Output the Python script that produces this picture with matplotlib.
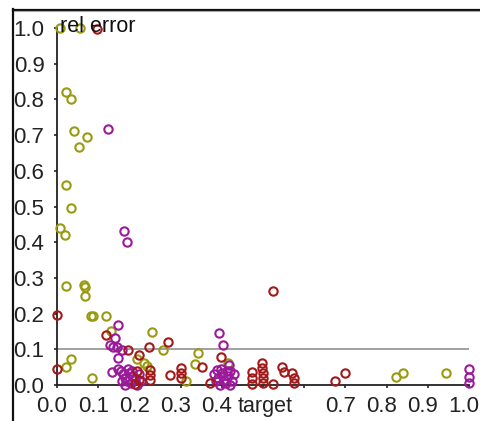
import matplotlib
matplotlib.use("Agg")
import matplotlib.pyplot as plt
from matplotlib.lines import Line2D
from matplotlib.transforms import ScaledTranslation

# series: (target, relative error)
olive_x = [0.007, 0.056, 0.023, 0.034, 0.041, 0.072, 0.053, 0.023, 0.033,
           0.007, 0.019, 0.023, 0.065, 0.068, 0.068, 0.083, 0.088, 0.120,
           0.130, 0.230, 0.258, 0.193, 0.210, 0.218, 0.343, 0.335, 0.416,
           0.313, 0.034, 0.021, 0.084, 0.824, 0.841, 0.943]
olive_y = [1.000, 1.000, 0.820, 0.800, 0.712, 0.695, 0.667, 0.560, 0.496,
           0.439, 0.420, 0.278, 0.280, 0.274, 0.249, 0.193, 0.194, 0.194,
           0.150, 0.148, 0.098, 0.072, 0.062, 0.054, 0.089, 0.060, 0.062,
           0.011, 0.072, 0.051, 0.020, 0.023, 0.033, 0.033]

purple_x = [0.125, 0.163, 0.170, 0.147, 0.141, 0.128, 0.136, 0.145, 0.157,
            0.149, 0.133, 0.148, 0.155, 0.160, 0.165, 0.170, 0.175, 0.180,
            0.185, 0.190, 0.195, 0.200, 0.172, 0.158, 0.182, 0.165, 0.205,
            0.394, 0.404, 0.418, 0.380, 0.385, 0.390, 0.395, 0.400, 0.405,
            0.410, 0.415, 0.420, 0.425, 0.430, 0.398, 0.412, 0.388, 0.420,
            1.000, 1.000, 1.000]
purple_y = [0.717, 0.432, 0.401, 0.168, 0.131, 0.112, 0.107, 0.106, 0.098,
            0.075, 0.037, 0.045, 0.040, 0.030, 0.020, 0.010, 0.035, 0.005,
            0.025, 0.015, 0.000, 0.030, 0.045, 0.012, 0.040, 0.000, 0.012,
            0.147, 0.112, 0.055, 0.030, 0.010, 0.020, 0.000, 0.035, 0.015,
            0.005, 0.025, 0.040, 0.010, 0.030, 0.045, 0.040, 0.042, 0.000,
            0.044, 0.023, 0.006]

red_x = [0.096, 0.000, 0.000, 0.120, 0.173, 0.200, 0.224, 0.270, 0.226,
         0.226, 0.226, 0.200, 0.195, 0.190, 0.300, 0.300, 0.300, 0.274,
         0.351, 0.371, 0.397, 0.525, 0.473, 0.473, 0.473, 0.498, 0.498,
         0.501, 0.501, 0.501, 0.525, 0.547, 0.551, 0.571, 0.575, 0.575,
         0.675, 0.699]
red_y = [0.997, 0.195, 0.044, 0.140, 0.098, 0.084, 0.107, 0.121, 0.042,
         0.028, 0.014, 0.014, 0.040, 0.004, 0.047, 0.033, 0.019, 0.028,
         0.051, 0.005, 0.079, 0.264, 0.037, 0.019, 0.002, 0.061, 0.047,
         0.033, 0.019, 0.005, 0.003, 0.051, 0.037, 0.033, 0.019, 0.005,
         0.012, 0.033]

x_ticks = [0.0, 0.1, 0.2, 0.3, 0.4, 0.5, 0.6, 0.7, 0.8, 0.9, 1.0]
x_tick_labels = ["0.0", "0.1", "0.2", "0.3", "0.4", "target", "", "0.7",
                 "0.8", "0.9", "1.0"]
y_ticks = [0.0, 0.1, 0.2, 0.3, 0.4, 0.5, 0.6, 0.7, 0.8, 0.9, 1.0]
threshold = 0.1

plt.rcParams["font.family"] = ["Liberation Sans", "DejaVu Sans"]

W, H = 481, 421
fig = plt.figure(figsize=(W / 100, H / 100), dpi=100)
fig.patch.set_facecolor("white")
ax = fig.add_axes([57 / W, 1 - 385 / H, (469 - 57) / W, (385 - 28) / H])
ax.set_xlim(0, 1)
ax.set_ylim(0, 1)
for s in ("top", "right"):
    ax.spines[s].set_visible(False)
for s in ("left", "bottom"):
    ax.spines[s].set_color("#222222")
    ax.spines[s].set_linewidth(1.3)

ax.axhline(threshold, color="#999999", lw=1.3, zorder=1)

style = dict(ls="none", marker="o", ms=6.0, mew=1.5, mfc="none",
             clip_on=False, zorder=3)
ax.plot(olive_x, olive_y, mec="#9a9a10", **style)
ax.plot(purple_x, purple_y, mec="#9a1a9a", **style)
ax.plot(red_x, red_y, mec="#a31818", **style)

ax.set_xticks(x_ticks)
ax.set_xticklabels(x_tick_labels)
ax.set_yticks(y_ticks)
ax.set_yticklabels([f"{v:.1f}" for v in y_ticks])
ax.tick_params(axis="both", direction="out", length=2.5, width=1.2,
               color="#222222", labelsize=16, labelcolor="#222222")
ax.tick_params(axis="x", pad=5.5)
ax.tick_params(axis="y", pad=6.5)
for lab in ax.get_xticklabels():
    dx = 2 if lab.get_text() == "target" else -5
    lab.set_transform(lab.get_transform() +
                      ScaledTranslation(dx / 100, 0, fig.dpi_scale_trans))
    if lab.get_text() == "target":
        lab.set_fontsize(15.5)

ax.text(0.007, 0.99, "rel error", fontsize=15.5, color="#111111",
        ha="left", va="baseline", zorder=4)

# window frame edges
fig.add_artist(Line2D([13 / W, 1], [1 - 9.5 / H, 1 - 9.5 / H],
                      transform=fig.transFigure, color="#111111", lw=1.6))
fig.add_artist(Line2D([13 / W, 1], [1 - 11 / H, 1 - 11 / H],
                      transform=fig.transFigure, color="#aaaaaa", lw=0.8))
fig.add_artist(Line2D([13 / W, 13 / W], [0, 1 - 9 / H],
                      transform=fig.transFigure, color="#111111", lw=1.6))

fig.savefig("out.png", dpi=100)
